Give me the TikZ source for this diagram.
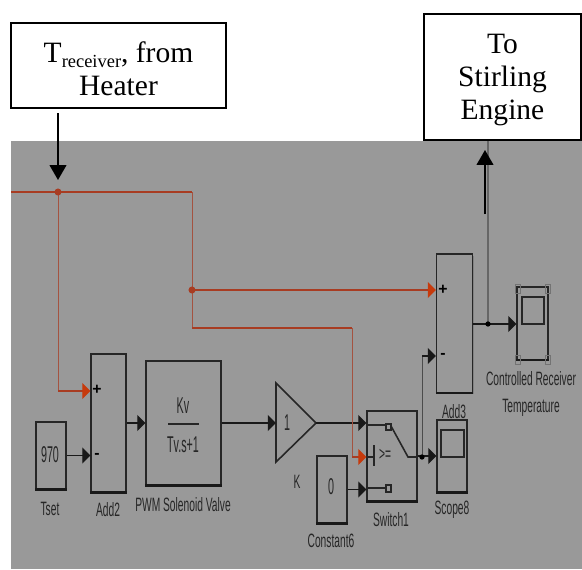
\documentclass[tikz,border=0pt]{standalone}
\usepackage{fontspec}
\setmainfont{Liberation Serif}
\setsansfont{Liberation Sans}
\usetikzlibrary{arrows.meta, shadows}
\definecolor{panelgray}{HTML}{999999}
\definecolor{sigred}{HTML}{A83C22}
\definecolor{tipred}{HTML}{C63A0C}
\definecolor{inkgray}{HTML}{262626}
\tikzset{
    callout/.style={draw=black, line width=0.9pt, fill=white},
    callouttext/.style={align=center, inner sep=0pt, font=\fontsize{16.8}{19}\selectfont},
    block/.style={draw=inkgray, line width=0.7pt, inner sep=0pt, fill=panelgray,
        drop shadow={shadow xshift=0.6pt, shadow yshift=-0.8pt, fill=black!55, opacity=0.6}},
    tag/.style={text=inkgray, xscale=0.53, inner sep=0pt, font=\sffamily\fontsize{11}{12}\selectfont},
    valuetag/.style={text=inkgray, xscale=0.47, inner sep=0pt, font=\sffamily\fontsize{13}{14}\selectfont},
    signtag/.style={text=black, inner sep=0pt, font=\sffamily\bfseries\fontsize{9}{10}\selectfont},
    sigline/.style={black!90, line width=0.75pt},
    redline/.style={sigred, line width=0.75pt},
    thinred/.style={sigred!75!panelgray, line width=0.55pt},
    sigtip/.style={-{Triangle[length=4.6pt, width=9pt]}},
    redtip/.style={-{Triangle[length=4.6pt, width=9pt, color=tipred]}},
    bigtip/.style={black, line width=1.1pt, -{Triangle[length=8.5pt, width=9.5pt]}},
    junction/.style={circle, fill=black, inner sep=0pt, minimum size=3pt}
}
\begin{document}
\begin{tikzpicture}[x=0.02cm, y=-0.02cm]
    \useasboundingbox (0, 0) rectangle (582, 569);
    % grey model window
    \fill[panelgray] (11, 141) rectangle (582, 569);
    % blocks
    \node[block, minimum width=0.6cm, minimum height=1.34cm] (tset) at (51, 455.5) {};
    \node[block, minimum width=0.7cm, minimum height=2.76cm] (addtwo) at (108.5, 423) {};
    \node[block, minimum width=1.5cm, minimum height=2.48cm] (valve) at (183.5, 423) {};
    \node[block, minimum width=0.6cm, minimum height=1.34cm] (constant) at (332, 489.5) {};
    \node[block, minimum width=1cm, minimum height=1.8cm] (switch) at (392, 456) {};
    \node[block, minimum width=0.6cm, minimum height=1.44cm] (scope) at (452, 456) {};
    \node[block, minimum width=0.72cm, minimum height=2.76cm] (addthree) at (454.5, 323.5) {};
    \node[block, minimum width=0.62cm, minimum height=1.44cm] (tempscope) at (532.5, 323.5) {};
    % heavier top and bottom edges
    \foreach \blockname in {tset, addtwo, valve, constant, switch, scope, addthree, tempscope} {
        \draw[inkgray, line width=0.9pt] (\blockname.north west) -- (\blockname.north east);
        \draw[black!90, line width=1.3pt] (\blockname.south west) -- (\blockname.south east);
    }
    % gain triangle
    \coordinate (gainin) at (276, 423);
    \coordinate (gainout) at (316, 423);
    \draw[inkgray, line width=0.9pt, fill=panelgray] (276, 383) -- (gainout) -- (276, 462) -- cycle;
    \node[valuetag] (gainval) at (287, 423) {1};
    % block contents
    \node[valuetag] (tsetval) at (50, 455) {970};
    \node[valuetag] (constval) at (331, 487) {0};
    \node[valuetag] (kv) at (183, 406) {Kv};
    \node[valuetag] (tv) at (183, 445) {Tv.s+1};
    \draw[inkgray, line width=0.8pt] (168, 424) -- (199, 424);
    \node[signtag] (addtwoplus) at (97, 390) {+};
    \node[signtag] (addtwominus) at (97, 456) {-};
    \node[signtag] (addthreeplus) at (443, 290) {+};
    \node[signtag] (addthreeminus) at (443, 356) {-};
    % switch contents
    \draw[inkgray, line width=0.9pt] (367, 425) -- (386, 425);
    \draw[inkgray, line width=0.9pt] (367, 488) -- (386, 488);
    \draw[inkgray, line width=0.9pt] (391, 426) -- (408, 457) -- (417, 457);
    \draw[inkgray, line width=0.7pt] (386, 424) rectangle (391, 430);
    \draw[inkgray, line width=0.7pt] (386, 485) rectangle (391, 492);
    \draw[inkgray, line width=0.6pt] (367, 457) -- (374, 457);
    \draw[inkgray, line width=0.7pt] (374, 445) -- (374, 466);
    \node[tag] (compare) at (385, 455) {>=};
    % scope screens
    \draw[inkgray, line width=0.8pt] (441, 430) rectangle (464, 457);
    \draw[inkgray, line width=0.8pt] (522, 297) rectangle (544, 324);
    % corner tabs of the temperature scope
    \foreach \cx/\cy in {515/284, 545/284, 515/355, 545/355}
        \draw[black!55, line width=0.5pt] (\cx, \cy) rectangle ++(5, 9);
    % block labels
    \node[tag] (tsetlabel) at (50, 509) {Tset};
    \node[tag] (addtwolabel) at (108, 510) {Add2};
    \node[tag] (valvelabel) at (183, 505) {PWM Solenoid Valve};
    \node[tag] (gainlabel) at (297, 482) {K};
    \node[tag] (switchlabel) at (391, 520) {Switch1};
    \node[tag] (constlabel) at (331, 541) {Constant6};
    \node[tag] (scopelabel) at (452, 510) {Scope8};
    \node[tag] (addthreelabel) at (454, 412) {Add3};
    \node[tag] (templabel) at (531, 379) {Controlled Receiver};
    \node[tag] (templabeltwo) at (531, 408) {Temperature};
    % black signals
    \coordinate (tsetport) at (addtwo.west |- tset.east);
    \coordinate (minusport) at (addthree.west |- 0, 356);
    \coordinate (outjoin) at (422, 457);
    \coordinate (kneeup) at (422, 356);
    \coordinate (constport) at (switch.west |- constant.east);
    \coordinate (topport) at (switch.west |- gainout);
    \draw[sigline, sigtip] (tset.east) -- (tsetport);
    \draw[sigline, sigtip] (addtwo.east) -- (valve.west);
    \draw[sigline, sigtip] (valve.east) -- (gainin);
    \draw[sigline, sigtip] (gainout) -- (topport);
    \draw[sigline, sigtip] (constant.east) -- (constport);
    \draw[sigline, sigtip] (switch.east) -- (scope.west);
    \draw[black!70, line width=0.5pt] (outjoin) -- (kneeup);
    \draw[sigline, sigtip] (kneeup) -- (minusport);
    \node[junction] (outdot) at (outjoin) {};
    \coordinate (engineout) at (488, 324);
    \coordinate (tempport) at (tempscope.west |- engineout);
    \draw[sigline, sigtip] (addthree.east |- engineout) -- (tempport);
    \draw[black!60, line width=0.6pt] (engineout) -- (488, 141);
    \node[junction] (enginedot) at (engineout) {};
    % red signals
    \coordinate (inlet) at (11, 192);
    \coordinate (inletjoin) at (58, 192);
    \coordinate (corner) at (192, 192);
    \coordinate (midjoin) at (192, 290);
    \coordinate (lowcorner) at (192, 328);
    \coordinate (switchcorner) at (352, 328);
    \coordinate (switchdrop) at (352, 457);
    \coordinate (addtwodrop) at (58, 391);
    \draw[redline] (inlet) -- (corner);
    \draw[thinred] (corner) -- (lowcorner);
    \draw[redline] (lowcorner) -- (switchcorner);
    \draw[thinred] (switchcorner) -- (switchdrop);
    \draw[redline, redtip] (switchdrop) -- (switch.west |- switchdrop);
    \draw[thinred] (inletjoin) -- (addtwodrop);
    \draw[redline, redtip] (addtwodrop) -- (addtwo.west |- addtwodrop);
    \draw[redline, redtip] (midjoin) -- (addthree.west |- midjoin);
    \node[junction, fill=sigred, minimum width=3pt, minimum height=4pt] (inletdot) at (inletjoin) {};
    \node[junction, fill=sigred, minimum width=3pt, minimum height=4pt] (middot) at (midjoin) {};
    % callouts and their arrows
    \node[callout, minimum width=4.3cm, minimum height=1.7cm] (heater) at (118.5, 65.5) {};
    \node[callouttext] (heatertext) at (118.5, 69)
        {T\raisebox{-0.35ex}{\fontsize{10.5}{10}\selectfont receiver}, from\\Heater};
    \node[callout, minimum width=3.14cm, minimum height=2.52cm] (engine) at (502.5, 77) {};
    \node[callouttext] (enginetext) at (502.5, 80) {To\\Stirling\\Engine};
    \coordinate (heatertail) at (58, 113);
    \coordinate (heaterhead) at (58, 180);
    \coordinate (enginetail) at (485, 214);
    \coordinate (enginehead) at (485, 150);
    \draw[bigtip] (heatertail) -- (heaterhead);
    \draw[bigtip] (enginetail) -- (enginehead);
\end{tikzpicture}
\end{document}
